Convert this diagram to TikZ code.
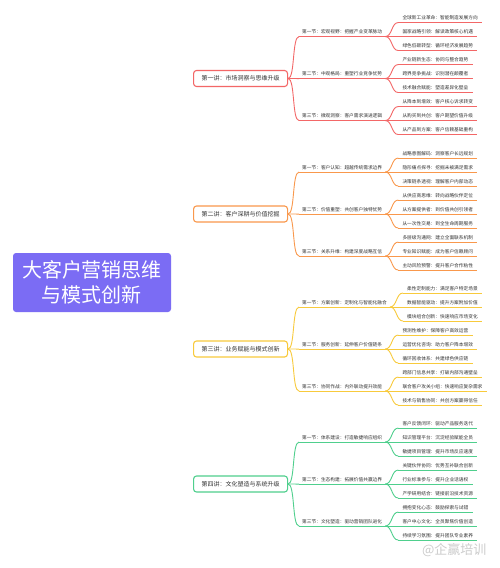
\documentclass[tikz,border=0pt]{standalone}
\usepackage{fontspec}
\setmainfont{Noto Sans CJK SC}
\usetikzlibrary{backgrounds}
\definecolor{cred}{HTML}{F36767}
\definecolor{corange}{HTML}{F9984C}
\definecolor{cyellow}{HTML}{F8CA3C}
\definecolor{cgreen}{HTML}{4FCF8D}
\definecolor{rootc}{HTML}{7B6CF4}
\definecolor{txt}{HTML}{333333}
\tikzset{
 secnode/.style={anchor=west, inner xsep=3pt, inner ysep=2pt, text=txt, font=\fontsize{4.7}{5}\selectfont, text height=3.9pt, text depth=0.8pt},
 leafnode/.style={secnode, inner xsep=4pt, xshift=13pt},
 lecnode/.style={draw=#1, fill=white, rounded corners=3pt, line width=1.1pt, anchor=west, minimum width=94pt, minimum height=16pt, inner xsep=4pt, text=txt, font=\fontsize{6}{7}\selectfont},
 mainline/.style={draw=#1, line width=2.5pt},
 subline/.style={draw=#1, line width=0.9pt},
 uline/.style={draw=#1, line width=0.8pt},
}
\newcommand\mmsec[5]{%
  \node[secnode] (#1) at (299,#3) {#4};
  \draw[subline=#5] (#2.east) .. controls +(7,0) and +(-7,0) .. (#1.south west);
  \draw[uline=#5] (#1.south west) -- (#1.south east);
}
\newcommand\mmleaf[5]{%
  \node[leafnode] (#1) at (#2.east |- 0,#3) {#4};
  \draw[subline=#5] (#2.south east) .. controls +(7,0) and +(-7,0) .. (#1.south west);
  \draw[uline=#5] (#1.south west) -- (#1.south east);
}
\begin{document}
\begin{tikzpicture}[x=1pt,y=-1pt]
\useasboundingbox (0,0) rectangle (500,568);
\fill[white] (0,0) rectangle (500,568);

\node[fill=rootc, rounded corners=3pt, minimum width=158pt, minimum height=59pt, text=white, align=center, font=\fontsize{20}{25}\selectfont] (root) at (92,282.5) {大客户营销思维\\与模式创新};

% Lecture 1
\node[lecnode=cred] (L1) at (193,78.5) {第一讲：市场洞察与思维升级};
\mmsec{s11}{L1}{32}{第一节：宏观视野：把握产业变革脉动}{cred}
\mmsec{s12}{L1}{74}{第二节：中观格局：重塑行业竞争优势}{cred}
\mmsec{s13}{L1}{116}{第三节：微观洞察：客户需求演进逻辑}{cred}
\mmleaf{l111}{s11}{18}{全球新工业革命：智能制造发展方向}{cred}
\mmleaf{l112}{s11}{32}{国家战略引领：解读政策核心机遇}{cred}
\mmleaf{l113}{s11}{46}{绿色低碳转型：循环经济发展趋势}{cred}
\mmleaf{l121}{s12}{60}{产业链新生态：协同与整合趋势}{cred}
\mmleaf{l122}{s12}{74}{跨界竞争挑战：识别潜在颠覆者}{cred}
\mmleaf{l123}{s12}{88}{技术融合赋能：塑造差异化壁垒}{cred}
\mmleaf{l131}{s13}{102}{从降本到增效：客户核心诉求转变}{cred}
\mmleaf{l132}{s13}{116}{从购买到共创：客户期望价值升级}{cred}
\mmleaf{l133}{s13}{130}{从产品到方案：客户信赖基础重构}{cred}

% Lecture 2
\node[lecnode=corange] (L2) at (193,214) {第二讲：客户深耕与价值挖掘};
\mmsec{s21}{L2}{167.5}{第一节：客户认知：超越传统需求边界}{corange}
\mmsec{s22}{L2}{209.5}{第二节：价值重塑：共创客户独特优势}{corange}
\mmsec{s23}{L2}{251.5}{第三节：关系升维：构建深度战略互信}{corange}
\mmleaf{l211}{s21}{153.5}{战略意图解码：洞察客户长远规划}{corange}
\mmleaf{l212}{s21}{167.5}{隐形痛点探寻：挖掘未被满足需求}{corange}
\mmleaf{l213}{s21}{181.5}{决策链条透视：理解客户内部动态}{corange}
\mmleaf{l221}{s22}{195.5}{从供应商思维：转向战略伙伴定位}{corange}
\mmleaf{l222}{s22}{209.5}{从方案提供者：到价值共创引领者}{corange}
\mmleaf{l223}{s22}{223.5}{从一次性交易：到全生命周期服务}{corange}
\mmleaf{l231}{s23}{237.5}{多层级沟通网：建立全面联系机制}{corange}
\mmleaf{l232}{s23}{251.5}{专业知识赋能：成为客户信赖顾问}{corange}
\mmleaf{l233}{s23}{265.5}{主动风险预警：提升客户合作粘性}{corange}

% Lecture 3
\node[lecnode=cyellow] (L3) at (193,349) {第三讲：业务赋能与模式创新};
\mmsec{s31}{L3}{302.5}{第一节：方案创新：定制化与智能化融合}{cyellow}
\mmsec{s32}{L3}{344.5}{第二节：服务创新：延伸客户价值链条}{cyellow}
\mmsec{s33}{L3}{386.5}{第三节：协同作战：内外联动提升效能}{cyellow}
\mmleaf{l311}{s31}{288.5}{柔性定制能力：满足客户特定场景}{cyellow}
\mmleaf{l312}{s31}{302.5}{数据智能驱动：提升方案附加价值}{cyellow}
\mmleaf{l313}{s31}{316.5}{模块组合创新：快速响应市场变化}{cyellow}
\mmleaf{l321}{s32}{330.5}{预测性维护：保障客户高效运营}{cyellow}
\mmleaf{l322}{s32}{344.5}{运营优化咨询：助力客户降本增效}{cyellow}
\mmleaf{l323}{s32}{358.5}{循环回收体系：共建绿色供应链}{cyellow}
\mmleaf{l331}{s33}{372.5}{跨部门信息共享：打破内部沟通壁垒}{cyellow}
\mmleaf{l332}{s33}{386.5}{联合客户攻关小组：快速响应复杂需求}{cyellow}
\mmleaf{l333}{s33}{400.5}{技术与销售协同：共创方案赢得信任}{cyellow}

% Lecture 4
\node[lecnode=cgreen] (L4) at (193,484) {第四讲：文化塑造与系统升级};
\mmsec{s41}{L4}{437.5}{第一节：体系建设：打造敏捷响应组织}{cgreen}
\mmsec{s42}{L4}{479.5}{第二节：生态构建：拓展价值共赢边界}{cgreen}
\mmsec{s43}{L4}{521.5}{第三节：文化塑造：驱动营销团队进化}{cgreen}
\mmleaf{l411}{s41}{423.5}{客户反馈闭环：驱动产品服务迭代}{cgreen}
\mmleaf{l412}{s41}{437.5}{知识管理平台：沉淀经验赋能全员}{cgreen}
\mmleaf{l413}{s41}{451.5}{敏捷项目管理：提升市场反应速度}{cgreen}
\mmleaf{l421}{s42}{465.5}{关键伙伴协同：优势互补联合创新}{cgreen}
\mmleaf{l422}{s42}{479.5}{行业标准参与：提升企业话语权}{cgreen}
\mmleaf{l423}{s42}{493.5}{产学研用结合：链接前沿技术资源}{cgreen}
\mmleaf{l431}{s43}{507.5}{拥抱变化心态：鼓励探索与试错}{cgreen}
\mmleaf{l432}{s43}{521.5}{客户中心文化：全员聚焦价值创造}{cgreen}
\mmleaf{l433}{s43}{535.5}{持续学习氛围：提升团队专业素养}{cgreen}

\begin{scope}[on background layer]
\draw[mainline=cred] ([xshift=5pt]root.center) .. controls (97,110) and (140,78.5) .. (L1.west);
\draw[mainline=corange] ([xshift=38pt]root.center) .. controls (140,214) and (160,214) .. (L2.west);
\draw[mainline=cyellow] ([xshift=38pt]root.center) .. controls (140,349) and (160,349) .. (L3.west);
\draw[mainline=cgreen] ([xshift=5pt]root.center) .. controls (97,455) and (140,484) .. (L4.west);
\end{scope}

\node[anchor=east, text=gray!40, font=\fontsize{13}{13}\selectfont] (wm) at (490,550) {@企赢培训};
\end{tikzpicture}
\end{document}
